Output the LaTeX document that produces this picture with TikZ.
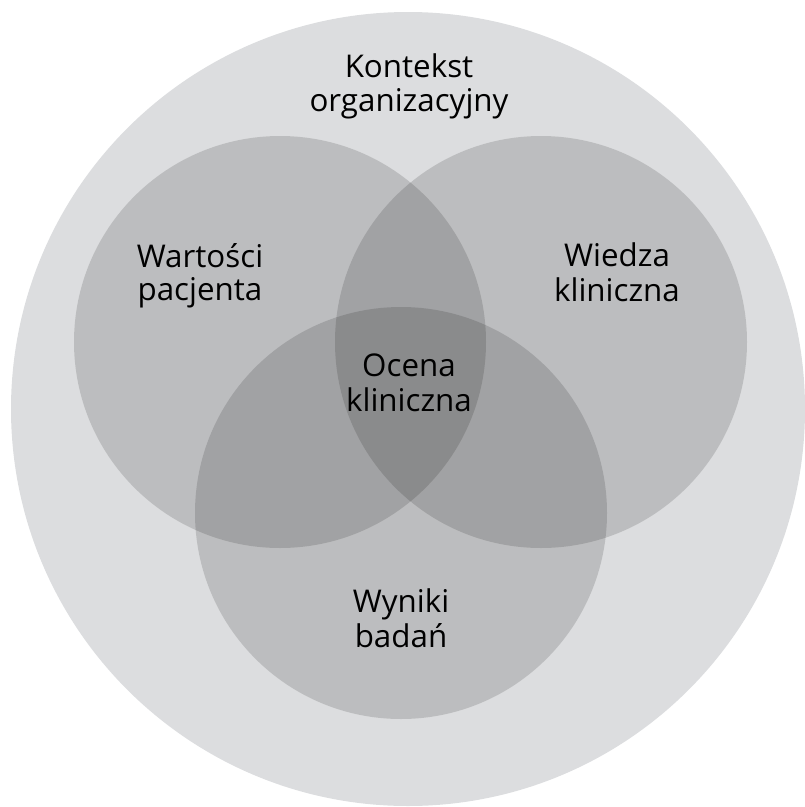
\documentclass[tikz,border=0pt]{standalone}
\usepackage{fontspec}
\setmainfont{Open Sans}
\begin{document}
\begin{tikzpicture}[x=0.75pt,y=-0.75pt,
  ring/.style={circle,inner sep=0pt,outer sep=0pt,draw=none},
  outerring/.style={ring,fill={rgb,255:red,220;green,221;blue,223},minimum size=595.5pt},
  setring/.style={ring,fill=black,fill opacity=0.14,minimum size=309pt},
  lbl/.style={align=center,font=\fontsize{23.5pt}{25pt}\selectfont,text=black,inner sep=0pt}]
\useasboundingbox (0,0) rectangle (804,807);
\node[outerring] (ctx) at (408,409) {};
\node[setring] (pat) at (280,342) {};
\node[setring] (wie) at (541,342) {};
\node[setring] (wyn) at (401,513) {};
\node[lbl] (tctx) at (409,87.5) {\strut Kontekst\\\strut organizacyjny};
\node[lbl] (tpat) at (200,277) {\strut Wartości\\\strut pacjenta};
\node[lbl] (twie) at (617,277) {\strut Wiedza\\\strut kliniczna};
\node[lbl] (toce) at (409,387) {\strut Ocena\\\strut kliniczna};
\node[lbl] (twyn) at (401,623) {\strut Wyniki\\\strut badań};
\end{tikzpicture}
\end{document}
